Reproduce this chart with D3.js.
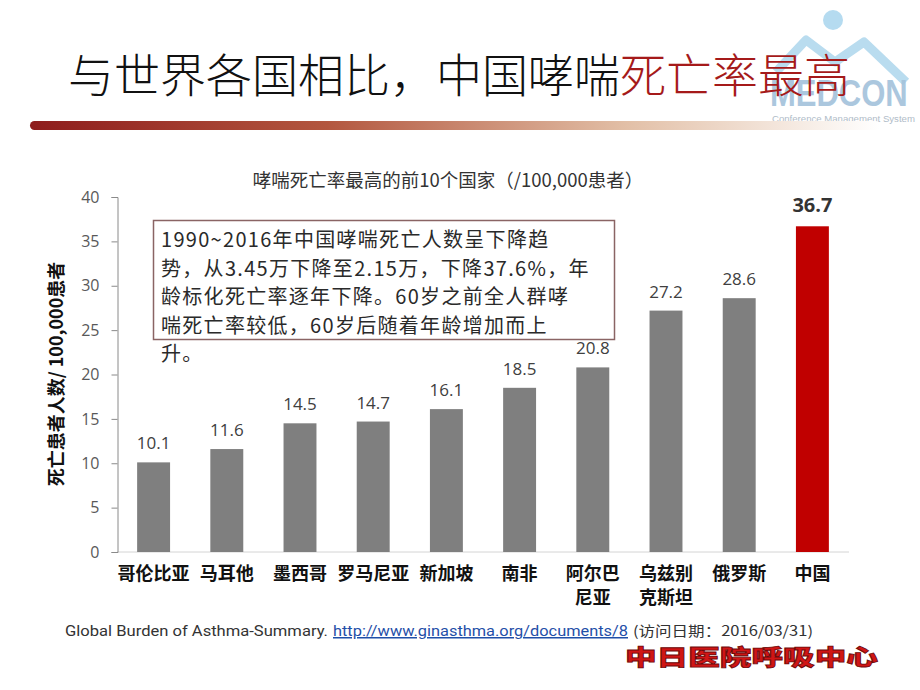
<!DOCTYPE html>
<html><head><meta charset="utf-8">
<script src="https://cdn.jsdelivr.net/npm/d3@7"></script>
<style>
html,body{margin:0;padding:0;background:#fff;}
svg{display:block;}
</style></head>
<body>
<svg id="c" width="920" height="690"></svg>
<script>
const countries = ["哥伦比亚","马耳他","墨西哥","罗马尼亚","新加坡","南非","阿尔巴尼亚","乌兹别克斯坦","俄罗斯","中国"];
const countryLines = [["哥伦比亚"],["马耳他"],["墨西哥"],["罗马尼亚"],["新加坡"],["南非"],["阿尔巴","尼亚"],["乌兹别","克斯坦"],["俄罗斯"],["中国"]];
const values = [10.1,11.6,14.5,14.7,16.1,18.5,20.8,27.2,28.6,36.7];
const yTicks = [0,5,10,15,20,25,30,35,40];
const highlight = "中国";
const pageTitleBlack = "与世界各国相比，中国哮喘";
const pageTitleRed = "死亡率最高";
const chartTitle = "哮喘死亡率最高的前10个国家（/100,000患者）";
const yAxisTitle = "死亡患者人数/ 100,000患者";
const noteLines = ["1990~2016年中国哮喘死亡人数呈下降趋","势，从3.45万下降至2.15万，下降37.6%，年","龄标化死亡率逐年下降。60岁之前全人群哮","喘死亡率较低，60岁后随着年龄增加而上","升。"];
const citeText = "Global Burden of Asthma-Summary.";
const citeLink = "http://www.ginasthma.org/documents/8";
const citeDate = "(访问日期：2016/03/31)";
const footerLogo = "中日医院呼吸中心";

const svg = d3.select("#c");
const cjk = "'Noto Sans CJK SC','Noto Sans',sans-serif";
const latin = "'Open Sans','Noto Sans CJK SC',sans-serif";

const defs = svg.append("defs");
const g1 = defs.append("linearGradient").attr("id","bar").attr("x1","0").attr("x2","1");
g1.append("stop").attr("offset","0").attr("stop-color","#8e1c1c");
g1.append("stop").attr("offset","0.35").attr("stop-color","#b3573f");
g1.append("stop").attr("offset","0.7").attr("stop-color","#e2bfa6");
g1.append("stop").attr("offset","1").attr("stop-color","#ffffff");

// MEDCON logo
const logo = svg.append("g");
logo.append("circle").attr("cx",833).attr("cy",20).attr("r",10).attr("fill","#b5dbf0");
logo.append("path").attr("d","M776,72 L806,40 L835,62 L864,42 L906,82")
  .attr("fill","none").attr("stroke","#b9dcef").attr("stroke-width",9).attr("stroke-linejoin","round");
logo.append("text").attr("transform","translate(770,106) scale(1,1.2)")
  .style("font-family","'Liberation Sans',sans-serif").style("font-weight","bold").style("font-size","31px")
  .attr("fill","#a3c2db").attr("opacity",0.9).text("MEDCON");
logo.append("text").attr("x",772).attr("y",122)
  .style("font-family","'Liberation Sans',sans-serif").style("font-size","9.6px")
  .attr("fill","#b0bcc8").text("Conference Management System");

// Page title
const pt = svg.append("text").attr("x",68).attr("y",92)
  .style("font-family",cjk).style("font-size","46px").style("font-weight","300");
pt.append("tspan").attr("fill","#111").text(pageTitleBlack);
pt.append("tspan").attr("fill","#a51a1a").text(pageTitleRed);

svg.append("rect").attr("x",30).attr("y",121).attr("width",850).attr("height",9).attr("rx",4.5)
  .attr("fill","url(#bar)");

// Chart
const x = d3.scaleBand().domain(countries).range([117,849]).paddingInner(0.55).paddingOuter(0.275);
const y = d3.scaleLinear().domain([0,40]).range([552,197]);

svg.append("text").attr("x",448).attr("y",187).attr("text-anchor","middle")
  .style("font-family",cjk).style("font-size","18.5px").attr("fill","#333").text(chartTitle);

svg.append("line").attr("x1",117).attr("x2",849).attr("y1",y(0)).attr("y2",y(0))
  .attr("stroke","#d4d4d4").attr("stroke-width",1);

const ya = svg.append("g").attr("transform","translate(117.5,0)")
  .call(d3.axisLeft(y).tickValues(yTicks).tickSize(6).tickPadding(12));
ya.select(".domain").attr("stroke","#8a8a8a");
ya.selectAll(".tick line").attr("stroke","#8a8a8a");
ya.selectAll(".tick text").attr("fill","#595959").style("font-family",latin).style("font-size","16px");

svg.append("text").attr("transform","translate(55,374) rotate(-90)").attr("text-anchor","middle")
  .attr("dominant-baseline","central")
  .style("font-family",cjk).style("font-weight","bold").style("font-size","18px").attr("fill","#111")
  .text(yAxisTitle);

const data = countries.map((c,i)=>({c, v:values[i], lines:countryLines[i]}));

svg.selectAll("rect.b").data(data).enter().append("rect").attr("class","b")
  .attr("x",d=>x(d.c)).attr("width",x.bandwidth())
  .attr("y",d=>y(d.v)).attr("height",d=>y(0)-y(d.v))
  .attr("fill",d=>d.c===highlight?"#c00000":"#7f7f7f");

svg.selectAll("text.v").data(data).enter().append("text").attr("class","v")
  .attr("x",d=>x(d.c)+x.bandwidth()/2).attr("y",d=>y(d.v)-(d.c===highlight?14:13))
  .attr("text-anchor","middle")
  .style("font-family",latin)
  .style("font-size",d=>d.c===highlight?"20px":"17px")
  .style("font-weight",d=>d.c===highlight?"bold":"normal")
  .attr("fill",d=>d.c===highlight?"#333":"#404040")
  .text(d=>d.v.toFixed(1));

const cl = svg.selectAll("text.cat").data(data).enter().append("text").attr("class","cat")
  .attr("text-anchor","middle")
  .style("font-family",cjk).style("font-weight","bold").style("font-size","18px").attr("fill","#111");
cl.each(function(d){
  const t = d3.select(this);
  d.lines.forEach((ln,k)=>{
    t.append("tspan").attr("x",x(d.c)+x.bandwidth()/2).attr("y",580+k*24).text(ln);
  });
});

// Note box
svg.append("rect").attr("x",153.5).attr("y",220.5).attr("width",461).attr("height",119)
  .attr("fill","#fff").attr("stroke","#8a6464").attr("stroke-width",1.5);
const nt = svg.append("text").style("font-family",cjk).style("font-size","20px")
  .style("letter-spacing","1.3px").attr("fill","#2a2a2a");
noteLines.forEach((ln,i)=>{
  nt.append("tspan").attr("x",161).attr("y",247+i*28.5).text(ln);
});

// citation
const ct = svg.append("g").style("font-family","'Liberation Sans Narrow','Roboto',sans-serif").style("font-size","15px");
ct.append("text").attr("x",65).attr("y",636).attr("textLength",263).attr("lengthAdjust","spacingAndGlyphs")
  .attr("fill","#333").text(citeText);
ct.append("text").attr("x",333).attr("y",636).attr("textLength",295).attr("lengthAdjust","spacingAndGlyphs")
  .attr("fill","#1f4fa8").attr("text-decoration","underline").text(citeLink);
ct.append("text").attr("x",633).attr("y",636).attr("textLength",180).attr("lengthAdjust","spacingAndGlyphs")
  .attr("fill","#333").style("font-family",cjk).style("font-size","14px").text(citeDate);

svg.append("text").attr("x",625).attr("y",665).attr("textLength",253).attr("lengthAdjust","spacingAndGlyphs")
  .style("font-family",cjk).style("font-weight","900").style("font-size","22px")
  .attr("fill","#d01515").attr("stroke","#6e0a0a").attr("stroke-width",0.8)
  .text(footerLogo);
</script>
</body></html>
